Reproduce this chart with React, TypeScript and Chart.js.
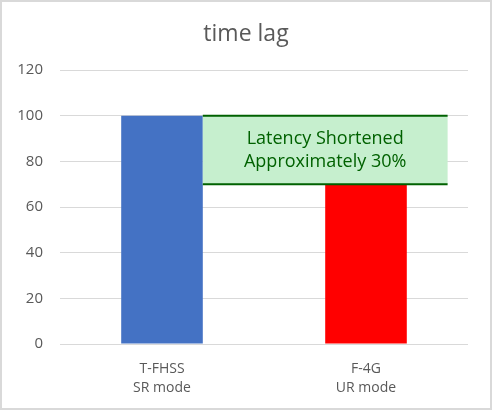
import React, { useEffect, useRef } from 'react';
import { Chart, registerables } from 'chart.js';

Chart.register(...registerables);

const chartTitle = 'time lag';
const categories = [['T-FHSS', 'SR mode'], ['F-4G', 'UR mode']];
const latency = [100, 70];
const barColors = ['#4472C4', '#FF0000'];
const yTicks = [0, 20, 40, 60, 80, 100, 120];
// callout: spans from the first bar's edge to index 1.4 on the category axis
const calloutLines = ['Latency Shortened', 'Approximately 30%'];
const calloutX = [0.2, 1.4];

const FONT = '"Open Sans", "Noto Sans", sans-serif';
const TEXT_GREY = '#595959';
const GRID_GREY = '#D9D9D9';

// title centred on the whole canvas (the built-in one is offset by the uneven padding)
const titlePlugin = {
  id: 'centredTitle',
  afterDraw(chart: Chart) {
    const { ctx } = chart;
    ctx.save();
    ctx.fillStyle = TEXT_GREY;
    ctx.font = `23px ${FONT}`;
    ctx.textAlign = 'center';
    ctx.textBaseline = 'alphabetic';
    ctx.fillText(chartTitle, chart.width / 2, 41);
    ctx.restore();
  }
};

const calloutPlugin = {
  id: 'callout',
  afterDatasetsDraw(chart: Chart) {
    const { ctx, scales } = chart;
    const x = scales.x;
    const y = scales.y;
    const left = x.getPixelForValue(calloutX[0]);
    const right = x.getPixelForValue(calloutX[1]);
    const top = y.getPixelForValue(Math.max(...latency));
    const bottom = y.getPixelForValue(Math.min(...latency));

    ctx.save();
    ctx.fillStyle = '#C6EFCE';
    ctx.fillRect(left, top, right - left, bottom - top);
    ctx.strokeStyle = '#006100';
    ctx.lineWidth = 2;
    ctx.beginPath();
    ctx.moveTo(left, top);
    ctx.lineTo(right, top);
    ctx.moveTo(left, bottom);
    ctx.lineTo(right, bottom);
    ctx.stroke();

    ctx.fillStyle = '#006100';
    ctx.font = `18px ${FONT}`;
    ctx.textAlign = 'center';
    ctx.textBaseline = 'middle';
    const cx = (left + right) / 2;
    const cy = (top + bottom) / 2;
    ctx.fillText(calloutLines[0], cx, cy - 11);
    ctx.fillText(calloutLines[1], cx, cy + 12);
    ctx.restore();
  }
};

const App: React.FC = () => {
  const chartRef = useRef<HTMLCanvasElement>(null);
  const chartInstance = useRef<Chart | null>(null);

  useEffect(() => {
    document.body.style.margin = '0';
    if (!chartRef.current) return;
    if (chartInstance.current) chartInstance.current.destroy();

    chartInstance.current = new Chart(chartRef.current, {
      type: 'bar',
      data: {
        labels: categories,
        datasets: [
          {
            label: chartTitle,
            data: latency,
            backgroundColor: barColors,
            barPercentage: 0.4,
            categoryPercentage: 1
          }
        ]
      },
      options: {
        responsive: true,
        maintainAspectRatio: false,
        animation: false,
        layout: {
          padding: { top: 70, left: 8, right: 24, bottom: 0 }
        },
        plugins: {
          legend: { display: false },
          tooltip: { enabled: false },
          title: { display: false }
        },
        scales: {
          x: {
            grid: { display: false, drawTicks: false },
            border: { display: false },
            ticks: {
              color: TEXT_GREY,
              font: { family: FONT, size: 14, lineHeight: 1.36 },
              padding: 15
            },
            afterFit: (scale: any) => {
              scale.height = 66;
            }
          },
          y: {
            min: 0,
            max: 120,
            afterBuildTicks: (scale: any) => {
              scale.ticks = yTicks.map(v => ({ value: v }));
            },
            grid: { color: GRID_GREY, drawTicks: false },
            border: { display: false },
            ticks: {
              color: TEXT_GREY,
              font: { family: FONT, size: 15 },
              padding: 17
            },
            afterFit: (scale: any) => {
              scale.width = 52;
            }
          }
        }
      },
      plugins: [calloutPlugin, titlePlugin]
    });

    return () => {
      if (chartInstance.current) {
        chartInstance.current.destroy();
        chartInstance.current = null;
      }
    };
  }, []);

  return (
    <div style={{ position: 'relative', width: 492, height: 410, background: '#fff' }}>
      <canvas ref={chartRef}></canvas>
      <div
        style={{
          position: 'absolute',
          inset: 0,
          border: `2px solid ${GRID_GREY}`,
          boxSizing: 'border-box',
          pointerEvents: 'none'
        }}
      />
    </div>
  );
};

export default App;
